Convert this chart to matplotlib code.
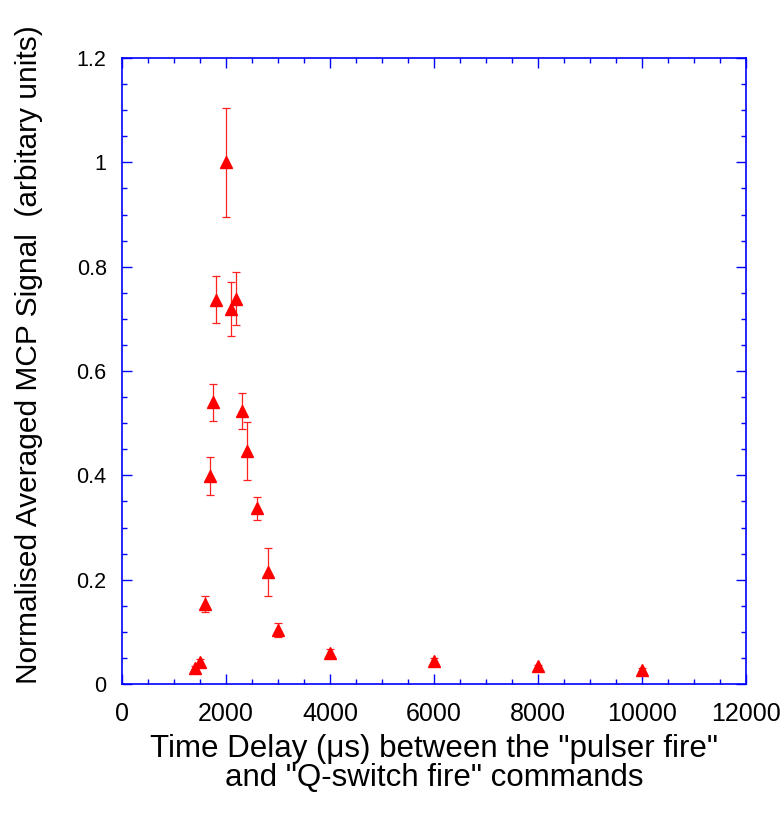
import numpy as np
import matplotlib
matplotlib.use("Agg")
import matplotlib.pyplot as plt
from matplotlib.ticker import MultipleLocator, FuncFormatter

plt.rcParams['font.family'] = ['Liberation Sans', 'DejaVu Sans']

# time delay (us) and normalised signal
delay = [1400, 1500, 1600, 1700, 1750, 1800, 2000, 2100, 2200, 2300,
         2400, 2600, 2800, 3000, 4000, 6000, 8000, 10000]
signal = [0.031, 0.043, 0.153, 0.399, 0.540, 0.737, 1.000, 0.719, 0.739, 0.523,
          0.447, 0.337, 0.214, 0.104, 0.060, 0.044, 0.034, 0.027]
error = [0.004, 0.005, 0.015, 0.037, 0.036, 0.045, 0.105, 0.052, 0.051, 0.035,
         0.055, 0.022, 0.046, 0.013, 0.007, 0.005, 0.003, 0.003]

blue = '#0000ff'

fig = plt.figure(figsize=(7.82, 8.16), dpi=100)
ax = fig.add_axes([0.156, 0.1618, 0.798, 0.767])

ax.errorbar(delay, signal, yerr=error, fmt='^', color='red', ms=8.5,
            ecolor='#ff2020', elinewidth=0.9, capsize=3, capthick=0.9)

ax.set_xlim(0, 12000)
ax.set_ylim(0, 1.2)
ax.xaxis.set_major_locator(MultipleLocator(2000))
ax.xaxis.set_minor_locator(MultipleLocator(500))
ax.yaxis.set_major_locator(MultipleLocator(0.2))
ax.yaxis.set_minor_locator(MultipleLocator(0.05))
ax.yaxis.set_major_formatter(FuncFormatter(lambda v, p: '%g' % round(v, 2)))

for s in ax.spines.values():
    s.set_color(blue)
    s.set_linewidth(1.2)
ax.tick_params(which='both', direction='in', top=True, right=True,
               color=blue, labelcolor='black')
ax.tick_params(which='major', length=7, width=1.0)
ax.tick_params(which='minor', length=3.5, width=1.0)
ax.tick_params(axis='x', which='major', pad=13, labelsize=18)
ax.tick_params(axis='y', which='major', pad=11, labelsize=15.5)

ax.set_xlabel('Time Delay (\u03bcs) between the "pulser fire"\nand "Q-switch fire" commands',
              fontsize=22.5, labelpad=6, linespacing=0.95)
ax.set_ylabel('Normalised Averaged MCP Signal  (arbitary units)', fontsize=21.5, labelpad=24)
ax.yaxis.label.set_y(0.526)

fig.savefig('out.png', dpi=100)
